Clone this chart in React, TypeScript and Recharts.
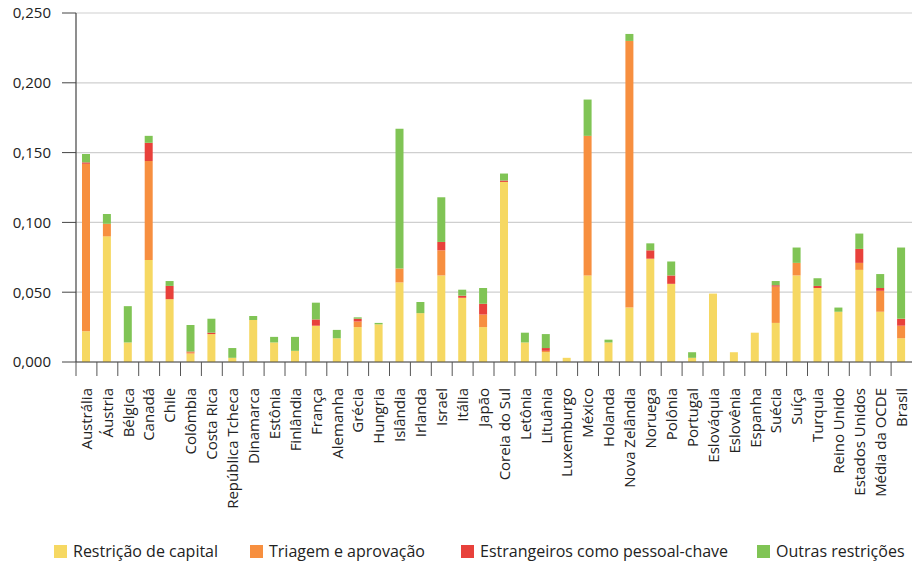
import { BarChart, Bar, XAxis, YAxis, CartesianGrid } from 'recharts';

const categorias = [
    'Austrália', 'Áustria', 'Bélgica', 'Canadá', 'Chile', 'Colômbia', 'Costa Rica',
    'República Tcheca', 'Dinamarca', 'Estônia', 'Finlândia', 'França', 'Alemanha',
    'Grécia', 'Hungria', 'Islândia', 'Irlanda', 'Israel', 'Itália', 'Japão',
    'Coreia do Sul', 'Letônia', 'Lituânia', 'Luxemburgo', 'México', 'Holanda',
    'Nova Zelândia', 'Noruega', 'Polônia', 'Portugal', 'Eslováquia', 'Eslovênia',
    'Espanha', 'Suécia', 'Suíça', 'Turquia', 'Reino Unido', 'Estados Unidos',
    'Média da OCDE', 'Brasil',
];

const restricaoCapital = [
    0.022, 0.090, 0.014, 0.073, 0.045, 0.006, 0.020, 0.003, 0.030, 0.014,
    0.008, 0.026, 0.017, 0.025, 0.027, 0.057, 0.035, 0.062, 0.046, 0.025,
    0.129, 0.014, 0.007, 0.003, 0.062, 0.014, 0.039, 0.074, 0.056, 0.003,
    0.049, 0.007, 0.021, 0.028, 0.062, 0.053, 0.036, 0.066, 0.036, 0.017,
];
const triagemAprovacao = [
    0.120, 0.009, 0, 0.071, 0, 0.001, 0, 0, 0, 0,
    0, 0, 0, 0.004, 0, 0.010, 0, 0.018, 0, 0.009,
    0, 0, 0.001, 0, 0.100, 0, 0.191, 0, 0, 0,
    0, 0, 0, 0.026, 0.009, 0, 0, 0.005, 0.015, 0.009,
];
const estrangeirosPessoal = [
    0.001, 0, 0, 0.013, 0.0095, 0.0005, 0.001, 0, 0, 0,
    0, 0.0045, 0, 0.002, 0, 0, 0, 0.006, 0.0015, 0.0077,
    0.001, 0, 0.002, 0, 0, 0, 0, 0.006, 0.006, 0,
    0, 0, 0, 0.001, 0, 0.0015, 0, 0.010, 0.002, 0.005,
];
const outrasRestricoes = [
    0.006, 0.007, 0.026, 0.005, 0.0035, 0.019, 0.010, 0.007, 0.003, 0.004,
    0.010, 0.012, 0.006, 0.001, 0.001, 0.100, 0.008, 0.032, 0.0043, 0.0113,
    0.005, 0.007, 0.010, 0, 0.026, 0.002, 0.005, 0.005, 0.010, 0.004,
    0, 0, 0, 0.003, 0.011, 0.0055, 0.003, 0.011, 0.010, 0.051,
];

const yTicks = [0, 0.05, 0.1, 0.15, 0.2, 0.25];

const series = [
    { key: 'capital', nome: 'Restrição de capital', cor: '#F6D862' },
    { key: 'triagem', nome: 'Triagem e aprovação', cor: '#F78F3F' },
    { key: 'estrangeiros', nome: 'Estrangeiros como pessoal-chave', cor: '#E8413B' },
    { key: 'outras', nome: 'Outras restrições', cor: '#80C455' },
];

const data = categorias.map((pais, i) => ({
    pais,
    capital: restricaoCapital[i],
    triagem: triagemAprovacao[i],
    estrangeiros: estrangeirosPessoal[i],
    outras: outrasRestricoes[i],
}));

const FONT = '"Open Sans", "Noto Sans", sans-serif';
const WIDTH = 913;
const LEFT = 76;
const RIGHT_MARGIN = 1;
const BAND = (WIDTH - LEFT - RIGHT_MARGIN) / categorias.length;
const AXIS_Y = 362;

function PaisTick(props: any) {
    const { x, payload } = props;
    return (
        <g>
            <line x1={x - BAND / 2} x2={x - BAND / 2} y1={AXIS_Y} y2={AXIS_Y + 14} stroke="#555" strokeWidth={1} />
            <text
                x={x}
                y={AXIS_Y + 26}
                transform={`rotate(-90, ${x}, ${AXIS_Y + 26})`}
                textAnchor="end"
                dy="0.35em"
                fontSize={15}
                fill="#222"
                fontFamily={FONT}
            >
                {payload.value}
            </text>
        </g>
    );
}

const legendaPos = [54, 250, 461, 757];

export default function App() {
    return (
        <div style={{ position: 'absolute', left: 0, top: 0, width: WIDTH, height: 561, background: '#fff', fontFamily: FONT }}>
            <BarChart
                width={WIDTH}
                height={530}
                data={data}
                margin={{ top: 13, right: RIGHT_MARGIN, left: 0, bottom: 0 }}
                barSize={8}
            >
                <CartesianGrid vertical={false} stroke="#cfcfcf" strokeWidth={1.2} />
                <XAxis
                    dataKey="pais"
                    interval={0}
                    height={168}
                    tick={<PaisTick />}
                    tickLine={false}
                    axisLine={{ stroke: '#444', strokeWidth: 1.2 }}
                />
                <YAxis
                    width={LEFT}
                    domain={[0, 0.25]}
                    ticks={yTicks}
                    tickSize={14}
                    tickMargin={11}
                    tickFormatter={(v: number) => v.toFixed(3).replace('.', ',')}
                    tick={{ fontSize: 15, fill: '#222', fontFamily: FONT }}
                    tickLine={{ stroke: '#444' }}
                    axisLine={{ stroke: '#444', strokeWidth: 1.2 }}
                />
                {series.map(s => (
                    <Bar key={s.key} dataKey={s.key} stackId="a" fill={s.cor} name={s.nome} isAnimationActive={false} />
                ))}
            </BarChart>
            {series.map((s, i) => (
                <div
                    key={s.key}
                    style={{
                        position: 'absolute',
                        left: legendaPos[i],
                        top: 541,
                        width: 200,
                        fontSize: 15,
                        lineHeight: '20px',
                        color: '#222',
                        whiteSpace: 'nowrap',
                    }}
                >
                    <span style={{ display: 'inline-block', width: 13, height: 13, background: s.cor, marginRight: 6, verticalAlign: -1 }} />
                    <span style={{ fontSize: 16 }}>{s.nome}</span>
                </div>
            ))}
        </div>
    );
}
